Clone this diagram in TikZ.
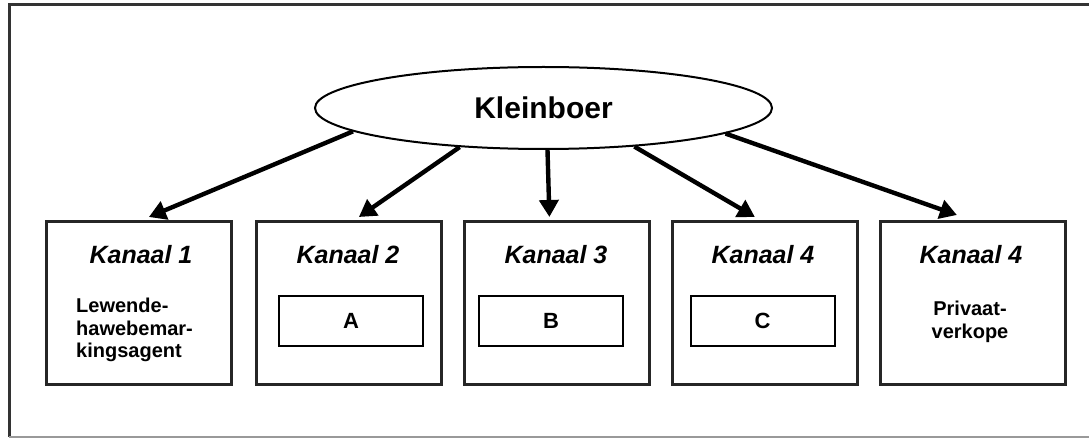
\documentclass[tikz,border=0pt]{standalone}
\usepackage{fontspec}
\setmainfont{Liberation Sans}
\usetikzlibrary{arrows.meta,shapes.geometric}
\begin{document}
\begin{tikzpicture}[x=1pt,y=-1pt,
  chanbox/.style={draw=black!85,line width=2.8pt,minimum width=185pt,minimum height=163pt,inner sep=0pt,anchor=north west},
  innerbox/.style={draw,line width=2pt,minimum width=144pt,minimum height=50pt,inner sep=0pt,font=\bfseries\fontsize{22}{26}\selectfont},
  title/.style={font=\bfseries\itshape\fontsize{25}{29}\selectfont,inner sep=0pt},
  body/.style={font=\bfseries\fontsize{20}{22.5}\selectfont,inner sep=0pt},
  flow/.style={line width=4.4pt,-{Triangle[length=17pt,width=19pt]}}]
\useasboundingbox (0,0) rectangle (1089,438);
\draw[line width=3pt,black!80] (1100,5) -- (9,5) -- (9,437);
\draw[line width=1.5pt,black!40] (9,437) -- (1100,437);
% central node
\node[ellipse,draw,line width=2pt,minimum width=457pt,minimum height=82pt,inner sep=0pt,
  font=\bfseries\fontsize{30}{34}\selectfont] (k) at (543.5,108) {Kleinboer};
% channel boxes
\node[chanbox] (b1) at (45,220) {};
\node[chanbox] (b2) at (255,220) {};
\node[chanbox] (b3) at (463,220) {};
\node[chanbox] (b4) at (671,220) {};
\node[chanbox] (b5) at (879,220) {};
% titles
\node[title] (t1) at (141,255) {Kanaal 1};
\node[title] (t2) at (348,255) {Kanaal 2};
\node[title] (t3) at (556,255) {Kanaal 3};
\node[title] (t4) at (763,255) {Kanaal 4};
\node[title] (t5) at (971,255) {Kanaal 4};
% contents
\node[body,align=left,anchor=west] (c1) at (76,330) {Lewende-\\hawebemar-\\kingsagent};
\node[innerbox] (c2) at (351,321) {A};
\node[innerbox] (c3) at (551,321) {B};
\node[innerbox] (c4) at (762.5,321) {C};
\node[body,align=center] (c5) at (970,322) {Privaat-\\verkope};
% arrows
\draw[flow] (k.187.5) -- ([xshift=10pt,yshift=3pt]b1.north);
\draw[flow] (k.205) -- ([xshift=10pt,yshift=3pt]b2.north);
\draw[flow] ([xshift=4pt]k.south) -- ([xshift=-7.5pt,yshift=3pt]b3.north);
\draw[flow] (k.337.5) -- ([xshift=-10pt,yshift=3pt]b4.north);
\draw[flow] (k.352.8) -- ([xshift=-16pt,yshift=5pt]b5.north);
\end{tikzpicture}
\end{document}
